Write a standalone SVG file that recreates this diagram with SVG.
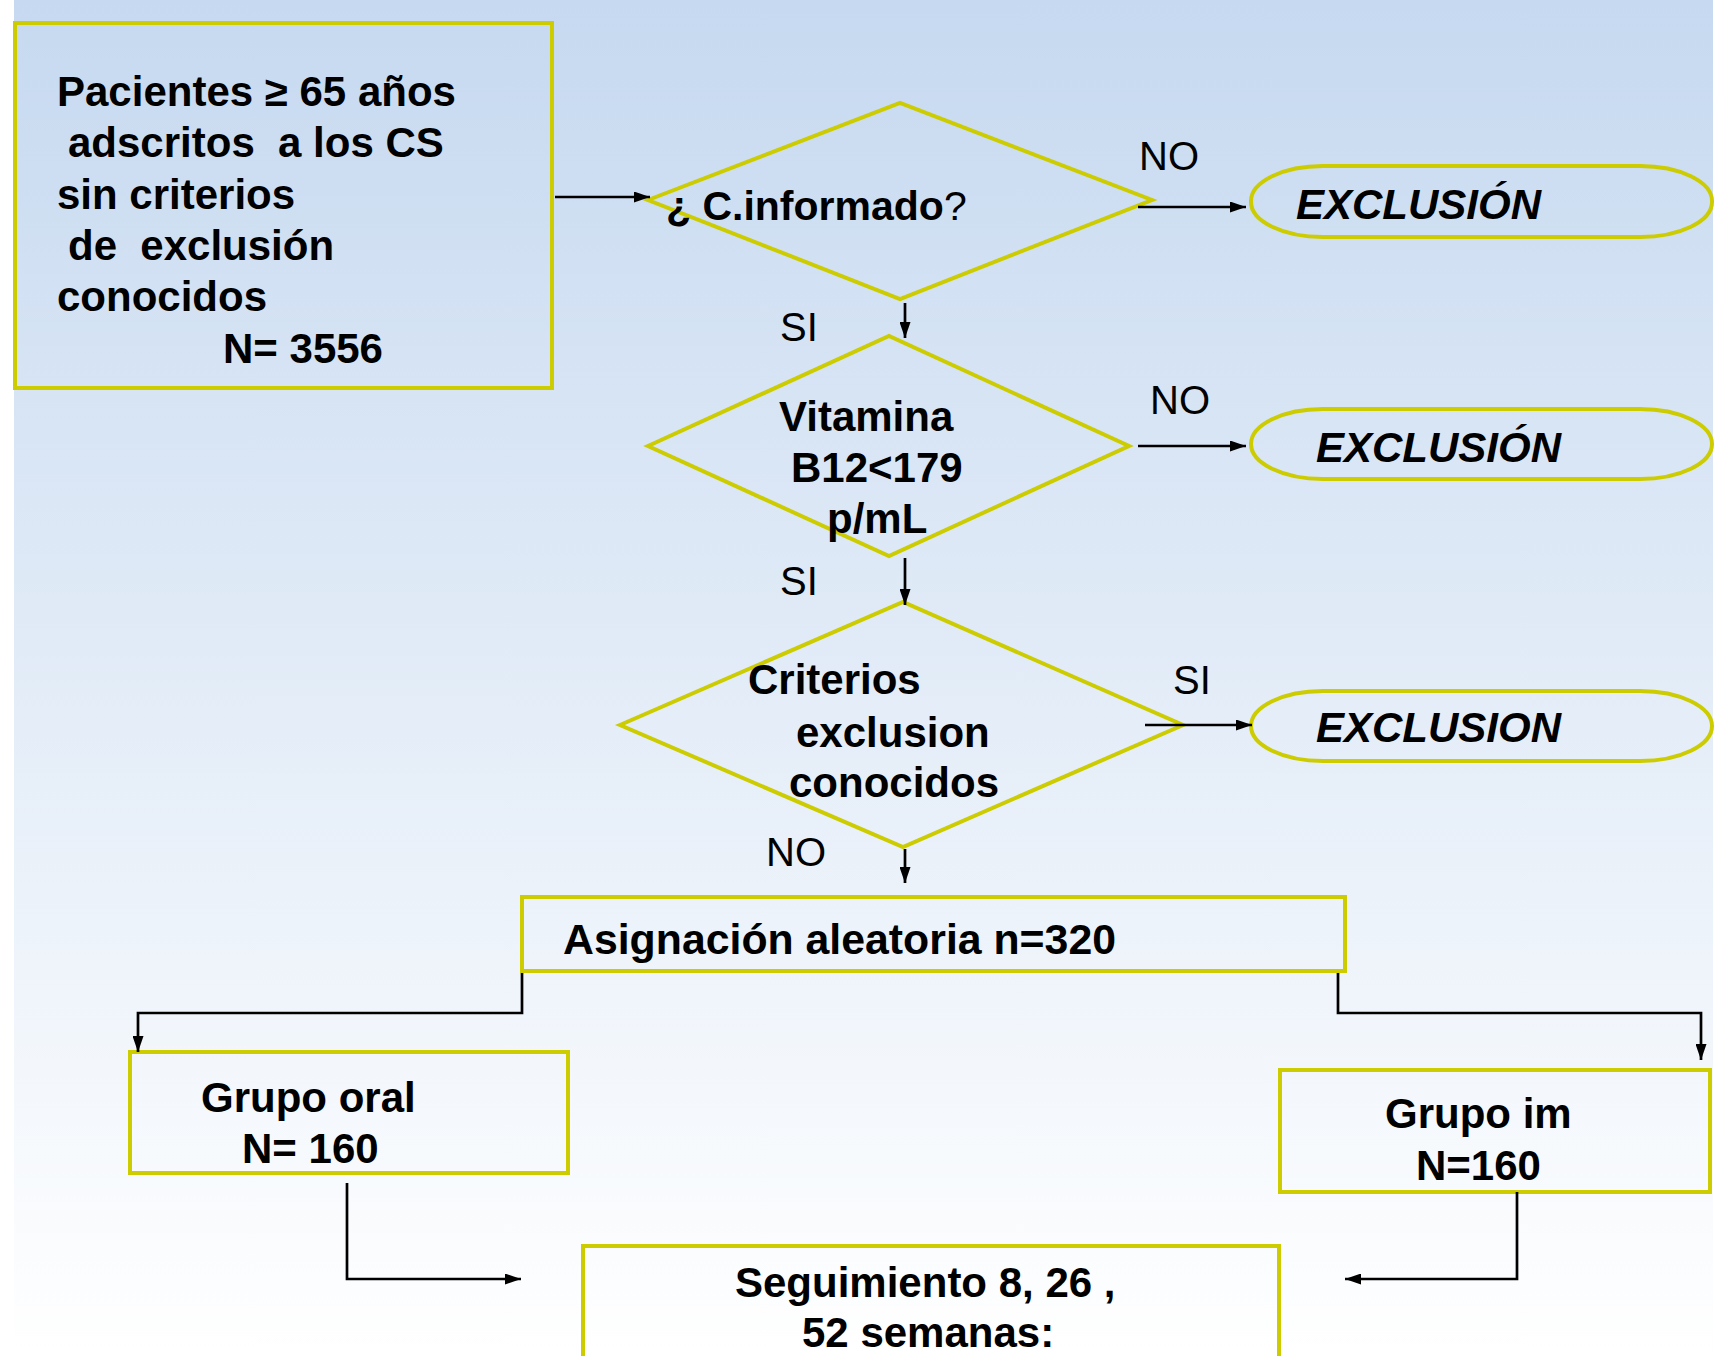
<svg xmlns="http://www.w3.org/2000/svg" width="1717" height="1356" viewBox="0 0 1717 1356">
<defs>
<linearGradient id="bg" x1="0" y1="0" x2="0" y2="1">
<stop offset="0" stop-color="#c6d9f0"/>
<stop offset="1" stop-color="#ffffff"/>
</linearGradient>
<marker id="ah" markerUnits="userSpaceOnUse" markerWidth="17" markerHeight="11" refX="16" refY="5.5" orient="auto">
<path d="M0,0 L16,5.5 L0,11 z" fill="#000"/>
</marker>
<style>
.node{fill:none;stroke:#cccc00;stroke-width:4}
.t{font-family:"Liberation Sans",Arial,sans-serif;font-size:42px;font-weight:bold;fill:#000;white-space:pre}
.ti{font-family:"Liberation Sans",Arial,sans-serif;font-size:42px;font-weight:bold;font-style:italic;fill:#000}
.lbl{font-family:"Liberation Sans",Arial,sans-serif;font-size:40px;fill:#000}
.conn path{fill:none;stroke:#000;stroke-width:2.7;marker-end:url(#ah)}
</style>
</defs>
<rect x="0" y="0" width="1717" height="1356" fill="#ffffff"/>
<rect x="14" y="0" width="1699" height="1356" fill="url(#bg)"/>

<g id="pacientes">
<rect class="node" x="15" y="23" width="537" height="365"/>
<text class="t" x="57" y="106">Pacientes ≥ 65 años</text>
<text class="t" x="68" y="157">adscritos  a los CS</text>
<text class="t" x="57" y="209">sin criterios</text>
<text class="t" x="68" y="260">de  exclusión</text>
<text class="t" x="57" y="311">conocidos</text>
<text class="t" x="223" y="363">N= 3556</text>
</g>

<g id="cinformado">
<polygon class="node" points="648,200 900,103 1152,200 900,299"/>
<text class="t" x="666" y="220" style="font-size:41px">¿ C.informado<tspan font-weight="normal">?</tspan></text>
</g>

<g id="exclusion1">
<rect class="node" x="1251" y="166" width="461" height="71" rx="72" ry="35"/>
<text class="ti" x="1296" y="219">EXCLUSIÓN</text>
</g>

<g id="vitamina">
<polygon class="node" points="648,446 889,336 1129,446 889,556"/>
<text class="t" x="779" y="431">Vitamina</text>
<text class="t" x="791" y="482">B12&lt;179</text>
<text class="t" x="827" y="533">p/mL</text>
</g>

<g id="exclusion2">
<rect class="node" x="1251" y="409" width="461" height="70" rx="72" ry="35"/>
<text class="ti" x="1316" y="462">EXCLUSIÓN</text>
</g>

<g id="criterios">
<polygon class="node" points="620,725 903,602 1183,725 903,847"/>
<text class="t" x="748" y="694">Criterios</text>
<text class="t" x="796" y="747">exclusion</text>
<text class="t" x="789" y="797">conocidos</text>
</g>

<g id="exclusion3">
<rect class="node" x="1251" y="691" width="461" height="70" rx="72" ry="35"/>
<text class="ti" x="1316" y="742">EXCLUSION</text>
</g>

<g id="asignacion">
<rect class="node" x="522" y="897" width="823" height="74"/>
<text class="t" x="563" y="954" style="font-size:42.8px">Asignación aleatoria n=320</text>
</g>

<g id="grupo-oral">
<rect class="node" x="130" y="1052" width="438" height="121"/>
<text class="t" x="201" y="1112">Grupo oral</text>
<text class="t" x="242" y="1163">N= 160</text>
</g>

<g id="grupo-im">
<rect class="node" x="1280" y="1070" width="430" height="122"/>
<text class="t" x="1385" y="1128">Grupo im</text>
<text class="t" x="1416" y="1180">N=160</text>
</g>

<g id="seguimiento">
<rect class="node" x="583" y="1246" width="696" height="160"/>
<text class="t" x="735" y="1297">Seguimiento 8, 26 ,</text>
<text class="t" x="802" y="1347">52 semanas:</text>
</g>

<g id="connectors" class="conn">
<path d="M555,197 H650"/>
<path d="M1138,207 H1246"/>
<path d="M905,303 V338"/>
<path d="M1138,446 H1246"/>
<path d="M905,558 V605"/>
<path d="M1145,725 H1252"/>
<path d="M905,849 V883"/>
<path d="M522,973 V1013 H138 V1052"/>
<path d="M1338,973 V1013 H1701 V1060"/>
<path d="M347,1183 V1279 H521"/>
<path d="M1517,1192 V1279 H1345"/>
</g>

<g id="labels">
<text class="lbl" x="1139" y="170">NO</text>
<text class="lbl" x="780" y="341">SI</text>
<text class="lbl" x="1150" y="414">NO</text>
<text class="lbl" x="780" y="595">SI</text>
<text class="lbl" x="1173" y="694">SI</text>
<text class="lbl" x="766" y="866">NO</text>
</g>
</svg>
